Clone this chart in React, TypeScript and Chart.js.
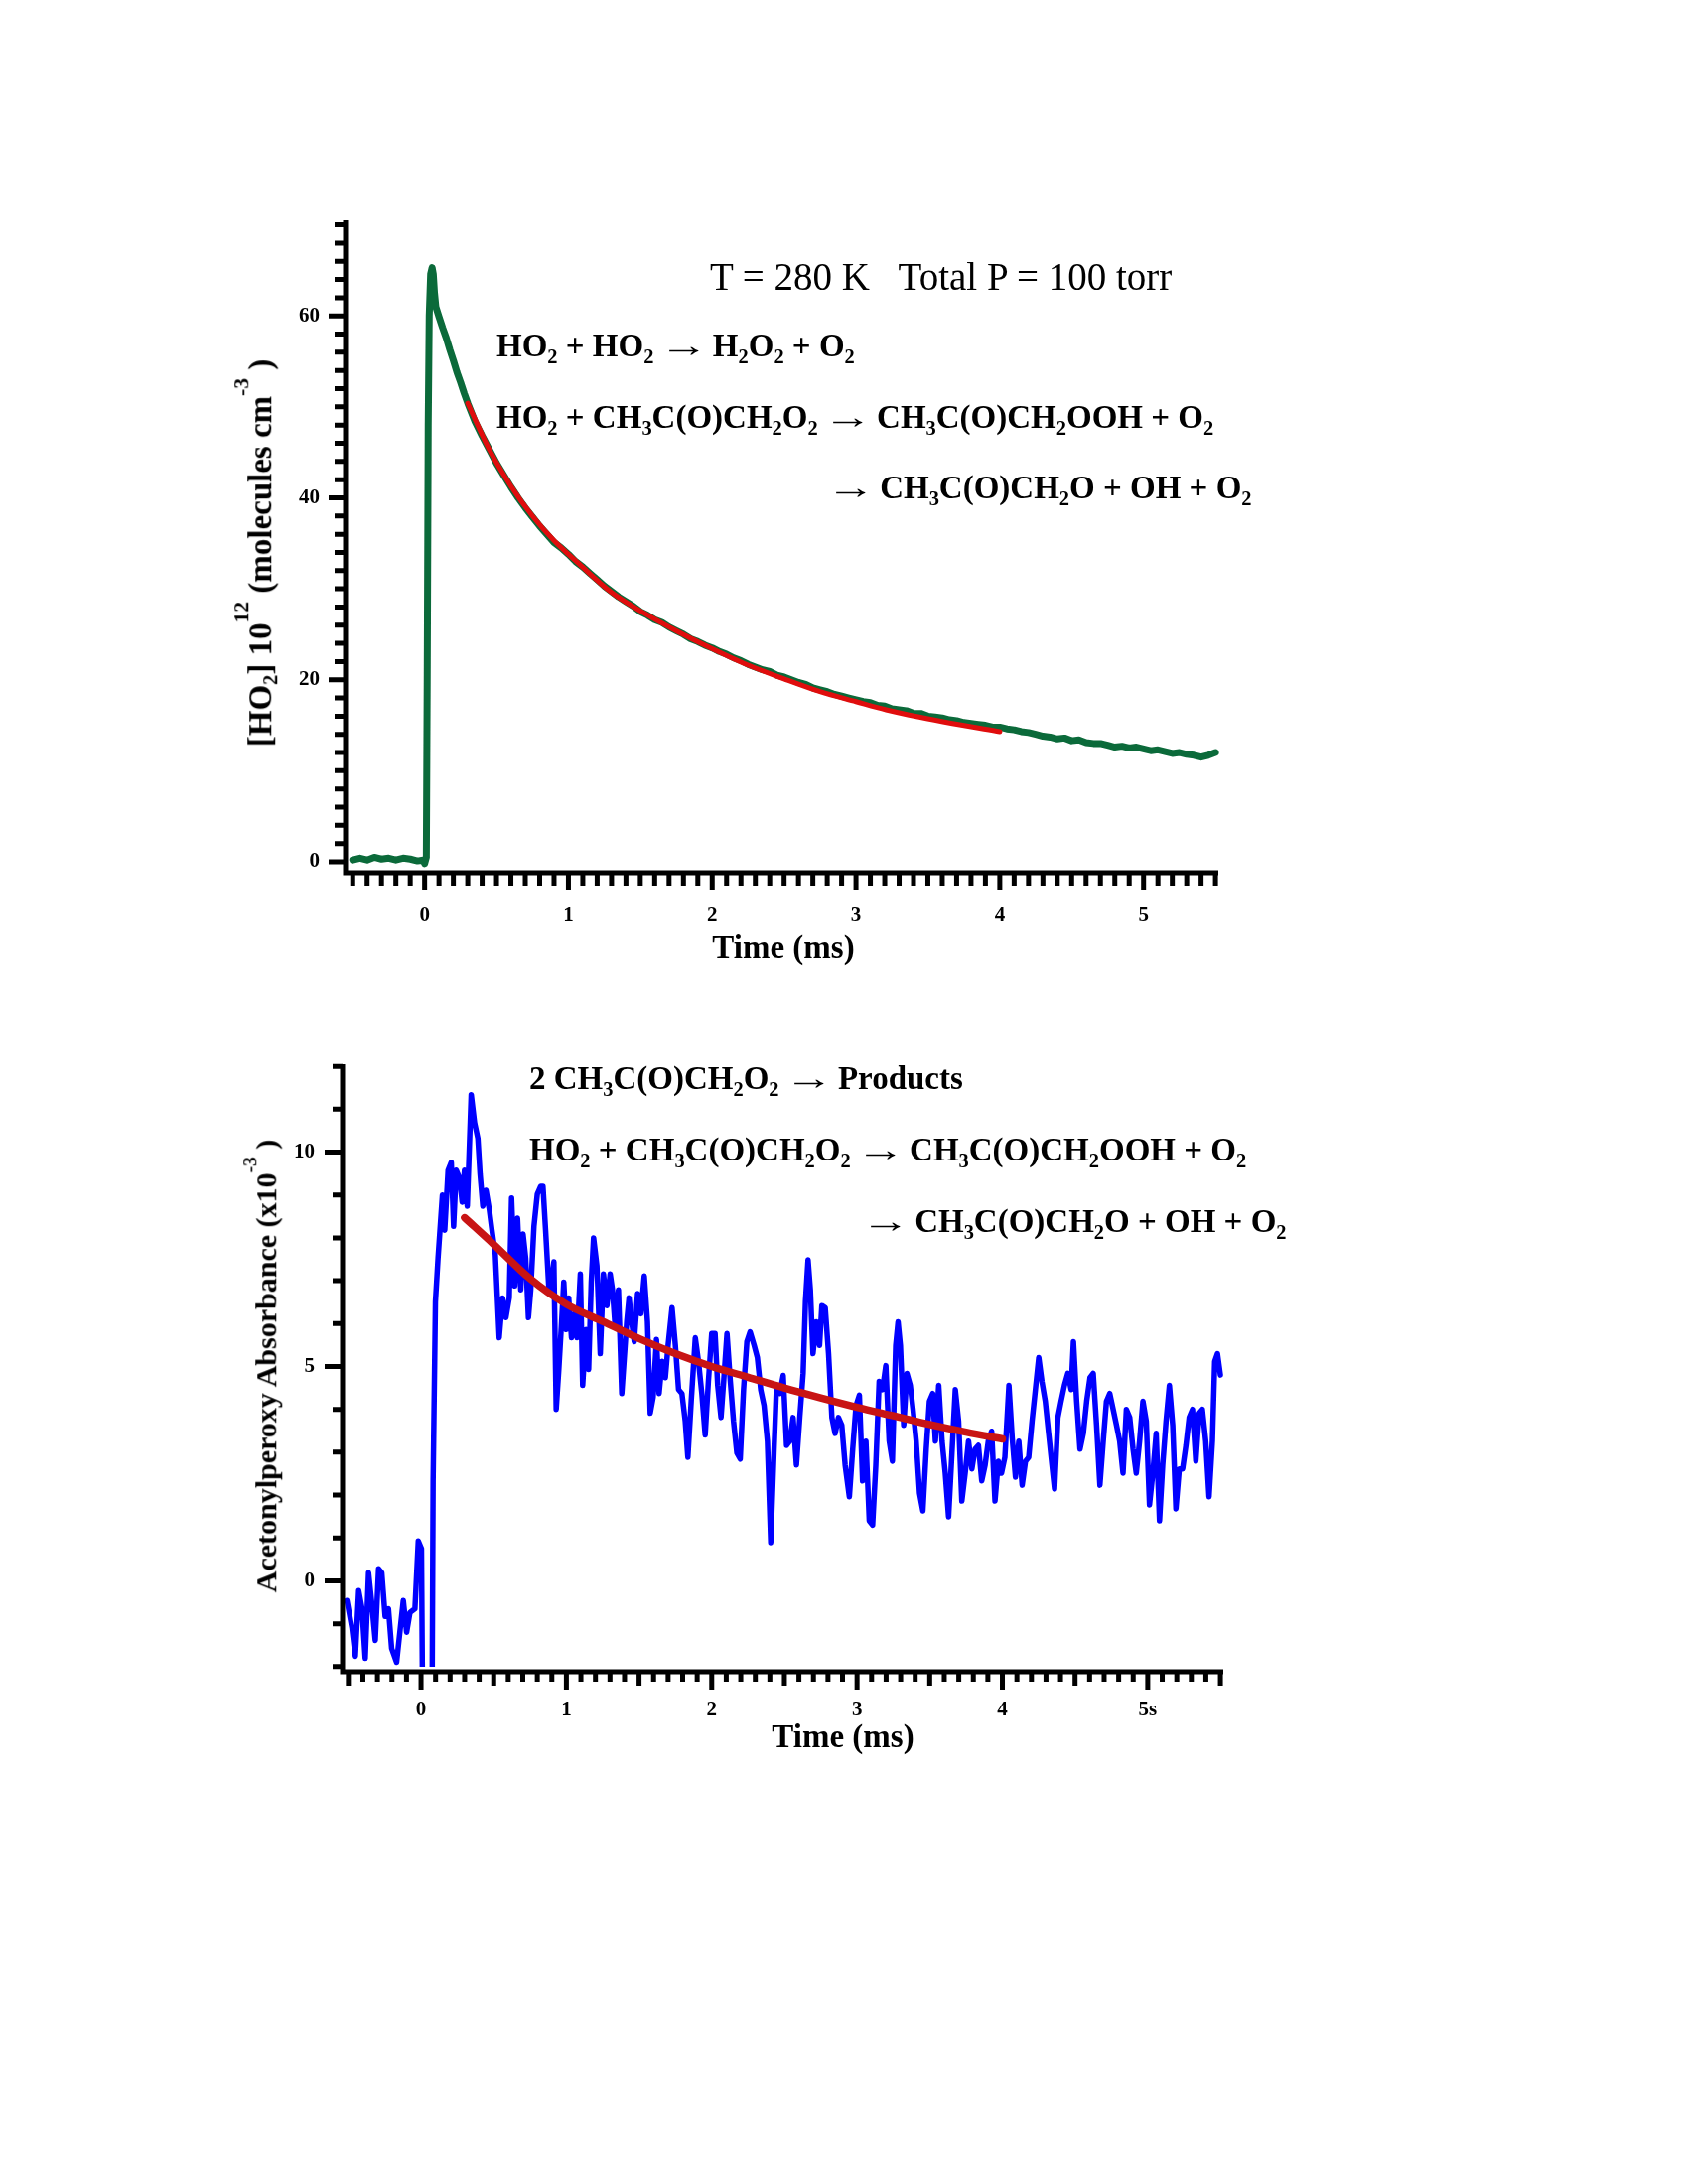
import { useEffect, useRef } from "react"
import { Chart, registerables } from "chart.js"

Chart.register(...registerables)

const FONT = '"Liberation Serif", "Times New Roman", serif'

// HO2 trace (time in ms, [HO2] in 10^12 molecules cm^-3)
const HO2_TRACE: [number, number][] = [
  [-0.5, 0.2], [-0.45, 0.4], [-0.4, 0.2], [-0.35, 0.5], [-0.3, 0.3], [-0.25, 0.4], [-0.2, 0.2],
  [-0.15, 0.4], [-0.1, 0.3], [-0.05, 0.1], [-0.01, 0.2], [0.0, -0.2], [0.012, 0.5], [0.018, 20],
  [0.025, 48], [0.032, 60], [0.042, 64.6], [0.052, 65.3], [0.06, 64.6], [0.068, 62.6], [0.078, 61.0],
  [0.1, 59.9], [0.125, 58.7], [0.15, 57.6], [0.175, 56.3], [0.2, 55.1], [0.225, 53.8], [0.25, 52.7],
  [0.275, 51.5], [0.3, 50.4], [0.35, 48.4], [0.4, 46.8], [0.45, 45.3], [0.5, 43.8], [0.55, 42.5],
  [0.6, 41.2], [0.65, 40.0], [0.7, 38.9], [0.75, 37.9], [0.8, 36.9], [0.85, 36.0], [0.9, 35.1],
  [0.95, 34.5], [1.0, 33.8], [1.05, 33.0], [1.1, 32.4], [1.15, 31.7], [1.2, 31.0], [1.25, 30.3],
  [1.3, 29.7], [1.35, 29.1], [1.4, 28.6], [1.45, 28.1], [1.5, 27.5], [1.55, 27.1], [1.6, 26.6],
  [1.65, 26.3], [1.7, 25.8], [1.75, 25.4], [1.8, 25.0], [1.85, 24.5], [1.9, 24.2], [1.95, 23.8],
  [2.0, 23.5], [2.05, 23.1], [2.1, 22.8], [2.15, 22.4], [2.2, 22.1], [2.25, 21.7], [2.3, 21.4],
  [2.35, 21.1], [2.4, 20.9], [2.45, 20.5], [2.5, 20.3], [2.55, 20.0], [2.6, 19.7], [2.65, 19.5],
  [2.7, 19.1], [2.75, 18.9], [2.8, 18.7], [2.85, 18.4], [2.9, 18.2], [2.95, 18.0], [3.0, 17.8],
  [3.05, 17.6], [3.1, 17.5], [3.15, 17.2], [3.2, 17.1], [3.25, 16.8], [3.3, 16.7], [3.35, 16.6],
  [3.4, 16.3], [3.45, 16.3], [3.5, 16.0], [3.55, 15.9], [3.6, 15.8], [3.65, 15.6], [3.7, 15.5],
  [3.75, 15.3], [3.8, 15.2], [3.85, 15.1], [3.9, 15.0], [3.95, 14.8], [4.0, 14.8], [4.05, 14.6],
  [4.1, 14.5], [4.15, 14.3], [4.2, 14.2], [4.25, 14.0], [4.3, 13.8], [4.35, 13.7], [4.4, 13.5],
  [4.45, 13.6], [4.5, 13.3], [4.55, 13.4], [4.6, 13.1], [4.65, 13.0], [4.7, 13.0], [4.75, 12.8],
  [4.8, 12.6], [4.85, 12.7], [4.9, 12.5], [4.95, 12.6], [5.0, 12.4], [5.05, 12.2], [5.1, 12.3],
  [5.15, 12.1], [5.2, 11.9], [5.25, 12.0], [5.3, 11.8], [5.35, 11.7], [5.4, 11.5], [5.45, 11.7],
  [5.5, 12.0],
]

// fitted HO2 decay
const HO2_FIT: [number, number][] = [
  [0.3, 50.4], [0.45, 45.3], [0.6, 41.3], [0.75, 38.0], [0.9, 35.3], [1.07, 32.8], [1.3, 29.6],
  [1.53, 27.3], [1.76, 25.3], [2.0, 23.4], [2.22, 21.8], [2.5, 20.1], [2.75, 18.7], [3.0, 17.6],
  [3.21, 16.7], [3.44, 15.9], [3.67, 15.2], [4.0, 14.3],
]

// acetonylperoxy absorbance (x10^-3)
const PEROXY_TRACE: [number, number][] = [
  [-0.51, -0.46], [-0.475, -1.11], [-0.452, -1.76], [-0.429, -0.23], [-0.406, -0.65], [-0.384, -1.81],
  [-0.361, 0.19], [-0.338, -0.55], [-0.315, -1.39], [-0.292, 0.28], [-0.27, 0.19], [-0.247, -0.83],
  [-0.224, -0.65], [-0.202, -1.58], [-0.168, -1.9], [-0.122, -0.46], [-0.099, -1.2], [-0.076, -0.74],
  [-0.042, -0.65], [-0.019, 0.93], [0.003, 0.75], [0.012, -3.5], [0.075, -3.5], [0.083, 2.33],
  [0.099, 6.51], [0.117, 7.53], [0.147, 9.0], [0.163, 8.18], [0.186, 9.58], [0.208, 9.76], [0.224, 8.27],
  [0.242, 9.58], [0.265, 9.39], [0.283, 8.83], [0.299, 9.58], [0.318, 8.74], [0.345, 11.34], [0.368, 10.69],
  [0.391, 10.32], [0.406, 9.49], [0.425, 8.74], [0.447, 9.11], [0.47, 8.65], [0.488, 8.18], [0.511, 7.62],
  [0.538, 5.67], [0.561, 6.6], [0.584, 6.14], [0.607, 6.6], [0.623, 8.93], [0.645, 6.88], [0.664, 8.46],
  [0.686, 6.79], [0.702, 8.09], [0.72, 7.53], [0.739, 6.14], [0.755, 6.79], [0.777, 8.27], [0.8, 9.02],
  [0.823, 9.2], [0.839, 9.2], [0.857, 8.18], [0.88, 6.79], [0.898, 6.97], [0.914, 7.44], [0.93, 4.0],
  [0.948, 4.93], [0.967, 6.04], [0.982, 6.97], [0.999, 5.86], [1.016, 6.6], [1.035, 5.67], [1.058, 6.23],
  [1.073, 5.67], [1.096, 7.16], [1.112, 4.56], [1.135, 5.86], [1.153, 4.93], [1.171, 6.97], [1.187, 8.0],
  [1.21, 7.35], [1.233, 5.3], [1.255, 7.16], [1.279, 6.42], [1.301, 7.16], [1.317, 6.79], [1.335, 5.95],
  [1.358, 6.79], [1.381, 4.37], [1.415, 6.04], [1.431, 6.6], [1.449, 6.04], [1.467, 5.58], [1.49, 6.7],
  [1.513, 6.23], [1.536, 7.11], [1.558, 6.04], [1.577, 3.91], [1.597, 4.28], [1.62, 5.63], [1.638, 4.37],
  [1.659, 5.12], [1.681, 4.74], [1.7, 5.49], [1.727, 6.37], [1.75, 5.49], [1.772, 4.46], [1.795, 4.37],
  [1.818, 3.72], [1.836, 2.88], [1.859, 4.19], [1.887, 5.67], [1.909, 5.12], [1.932, 4.37], [1.955, 3.4],
  [1.977, 4.65], [2.0, 5.77], [2.023, 5.77], [2.041, 4.56], [2.064, 3.81], [2.082, 4.65], [2.105, 5.77],
  [2.128, 4.65], [2.15, 3.72], [2.173, 2.98], [2.196, 2.84], [2.219, 4.46], [2.242, 5.58], [2.264, 5.81],
  [2.292, 5.49], [2.314, 5.21], [2.337, 4.46], [2.36, 4.09], [2.383, 3.26], [2.406, 0.89], [2.428, 2.98],
  [2.446, 4.56], [2.469, 4.37], [2.492, 4.79], [2.515, 3.16], [2.538, 3.26], [2.56, 3.81], [2.583, 2.7],
  [2.606, 3.81], [2.629, 4.84], [2.645, 6.51], [2.663, 7.49], [2.679, 6.79], [2.697, 5.3], [2.72, 6.04],
  [2.742, 5.49], [2.758, 6.42], [2.781, 6.37], [2.804, 5.3], [2.827, 3.81], [2.849, 3.44], [2.872, 3.81],
  [2.895, 3.63], [2.918, 2.7], [2.947, 1.96], [2.97, 3.07], [2.993, 4.09], [3.016, 4.33], [3.038, 2.33],
  [3.061, 3.26], [3.084, 1.4], [3.107, 1.3], [3.129, 2.7], [3.152, 4.65], [3.175, 4.46], [3.198, 5.02],
  [3.221, 3.26], [3.243, 2.79], [3.266, 5.49], [3.282, 6.04], [3.298, 5.49], [3.321, 3.63], [3.343, 4.84],
  [3.366, 4.56], [3.385, 4.0], [3.407, 3.26], [3.43, 2.05], [3.453, 1.63], [3.476, 3.07], [3.498, 4.19],
  [3.521, 4.37], [3.539, 3.26], [3.562, 4.56], [3.585, 3.26], [3.607, 2.51], [3.63, 1.49], [3.653, 2.98],
  [3.676, 4.46], [3.699, 3.72], [3.721, 1.86], [3.744, 2.51], [3.767, 3.26], [3.79, 2.61], [3.812, 3.07],
  [3.835, 3.16], [3.858, 2.33], [3.881, 2.7], [3.903, 3.26], [3.926, 3.49], [3.949, 1.86], [3.972, 2.79],
  [3.994, 2.51], [4.017, 2.88], [4.045, 4.56], [4.067, 3.35], [4.09, 2.42], [4.113, 3.26], [4.136, 2.23],
  [4.159, 2.79], [4.181, 2.88], [4.204, 3.72], [4.227, 4.46], [4.25, 5.21], [4.272, 4.65], [4.295, 4.19],
  [4.318, 3.44], [4.341, 2.7], [4.359, 2.14], [4.382, 3.81], [4.404, 4.19], [4.427, 4.56], [4.45, 4.84],
  [4.473, 4.46], [4.489, 5.58], [4.511, 4.19], [4.534, 3.07], [4.557, 3.44], [4.58, 4.19], [4.603, 4.74],
  [4.625, 4.84], [4.648, 3.63], [4.671, 2.23], [4.694, 3.26], [4.716, 4.19], [4.739, 4.37], [4.762, 4.0],
  [4.785, 3.63], [4.807, 3.26], [4.83, 2.51], [4.853, 4.0], [4.876, 3.81], [4.899, 3.07], [4.921, 2.51],
  [4.944, 3.26], [4.967, 4.19], [4.99, 3.72], [5.012, 1.77], [5.035, 2.51], [5.058, 3.44], [5.081, 1.4],
  [5.103, 2.7], [5.126, 3.72], [5.149, 4.56], [5.172, 3.63], [5.194, 1.68], [5.217, 2.61], [5.24, 2.61],
  [5.263, 3.16], [5.285, 3.81], [5.308, 4.0], [5.331, 2.79], [5.354, 3.91], [5.376, 4.0], [5.399, 3.26],
  [5.422, 1.96], [5.445, 3.26], [5.461, 5.12], [5.48, 5.3], [5.5, 4.8],
]

// fitted absorbance decay
const PEROXY_FIT: [number, number][] = [
  [0.3, 8.47], [0.5, 7.85], [0.75, 7.05], [1.0, 6.45], [1.25, 6.05], [1.5, 5.65], [1.75, 5.3],
  [2.0, 5.0], [2.25, 4.75], [2.5, 4.5], [2.75, 4.27], [3.0, 4.05], [3.25, 3.85], [3.5, 3.65],
  [3.75, 3.47], [4.0, 3.31],
]

// tick positions and labels
const X_TICKS = Array.from({ length: 61 }, (_, i) => (i - 5) / 10)
const TOP_Y_TICKS = Array.from({ length: 36 }, (_, i) => i * 2)
const BOTTOM_Y_TICKS = Array.from({ length: 15 }, (_, i) => i - 2)
const TOP_X_LABELS = ["0", "1", "2", "3", "4", "5"]
const BOTTOM_X_LABELS = ["0", "1", "2", "3", "4", "5s"]
const TOP_Y_LABELS = ["0", "20", "40", "60"]
const BOTTOM_Y_LABELS = ["0", "5", "10"]

const Y_W = 140
const X_H = 80
const PAD = 12

type Series = { points: [number, number][]; color: string; width: number; smooth?: boolean; clipBottom?: number }
type Area = { left: number; top: number; right: number; bottom: number }

type PanelProps = {
  area: Area
  xRange: [number, number]
  yRange: [number, number]
  yTicks: number[]
  xLabels: string[]
  yLabels: string[]
  xLen: (v: number) => number
  yLen: (v: number) => number
  xPad: number
  yPad: number
  series: Series[]
}

function TracePanel({ area, xRange, yRange, yTicks, xLabels, yLabels, xLen, yLen, xPad, yPad, series }: PanelProps) {
  const chartRef = useRef<HTMLCanvasElement>(null)
  const w = area.right - area.left + Y_W + PAD
  const h = area.bottom - area.top + PAD + X_H

  useEffect(() => {
    if (!chartRef.current) return

    // axis lines and tick marks, drawn from the scales
    const frame = {
      id: "frame",
      afterDraw(chart: Chart) {
        const { ctx, chartArea: a } = chart
        const xs = chart.scales.x
        const ys = chart.scales.y
        ctx.save()
        ctx.strokeStyle = "#000"
        ctx.lineCap = "butt"
        ctx.lineWidth = 5
        ctx.beginPath()
        ctx.moveTo(a.left, a.top)
        ctx.lineTo(a.left, a.bottom + 2.5)
        ctx.moveTo(a.left - 2.5, a.bottom)
        ctx.lineTo(a.right, a.bottom)
        for (const t of xs.ticks) {
          const px = xs.getPixelForValue(t.value)
          ctx.moveTo(px, a.bottom)
          ctx.lineTo(px, a.bottom + xLen(t.value))
        }
        for (const t of ys.ticks) {
          const py = ys.getPixelForValue(t.value)
          ctx.moveTo(a.left, py)
          ctx.lineTo(a.left - yLen(t.value), py)
        }
        ctx.stroke()
        ctx.restore()
      },
    }

    const tickFont = { family: FONT, size: 21, weight: "bold" as const, lineHeight: 1 }

    const chart = new Chart(chartRef.current, {
      type: "line",
      data: {
        datasets: series.map((s) => ({
          data: s.points.map(([x, y]) => ({ x, y })),
          borderColor: s.color,
          borderWidth: s.width,
          pointRadius: 0,
          tension: 0,
          cubicInterpolationMode: s.smooth ? ("monotone" as const) : ("default" as const),
          borderJoinStyle: "round" as const,
          borderCapStyle: "round" as const,
          fill: false,
          clip: { left: 8, right: 8, top: 8, bottom: s.clipBottom ?? 8 },
        })),
      },
      options: {
        animation: false,
        responsive: false,
        events: [],
        layout: { padding: { top: PAD, right: PAD, left: 0, bottom: 0 } },
        plugins: { legend: { display: false }, tooltip: { enabled: false } },
        scales: {
          x: {
            type: "linear",
            min: xRange[0],
            max: xRange[1],
            grid: { display: false, drawTicks: false },
            border: { display: false },
            afterBuildTicks: (s) => {
              s.ticks = X_TICKS.map((value) => ({ value }))
            },
            afterFit: (s) => {
              s.height = X_H
              s.paddingLeft = 0
              s.paddingRight = 0
            },
            ticks: {
              autoSkip: false,
              maxRotation: 0,
              minRotation: 0,
              padding: xPad,
              color: "#000",
              font: tickFont,
              callback: (v) => {
                const n = Number(v)
                return Number.isInteger(n) && n >= 0 && n < xLabels.length ? xLabels[n] : ""
              },
            },
          },
          y: {
            type: "linear",
            min: yRange[0],
            max: yRange[1],
            grid: { display: false, drawTicks: false },
            border: { display: false },
            afterBuildTicks: (s) => {
              s.ticks = yTicks.map((value) => ({ value }))
            },
            afterFit: (s) => {
              s.width = Y_W
              s.paddingTop = 0
              s.paddingBottom = 0
            },
            ticks: {
              autoSkip: false,
              padding: yPad,
              color: "#000",
              font: tickFont,
              callback: (v) => (yLabels.includes(String(v)) ? String(v) : ""),
            },
          },
        },
      },
      plugins: [frame],
    })

    return () => chart.destroy()
  }, [])

  return (
    <canvas
      ref={chartRef}
      width={w}
      height={h}
      style={{ position: "absolute", left: area.left - Y_W, top: area.top - PAD, width: w, height: h }}
    />
  )
}

const SUB = { fontSize: "0.62em", verticalAlign: "-0.32em", lineHeight: 0 }
const SUP = { fontSize: "0.65em", verticalAlign: "1.05em", lineHeight: 0 }
// thin, stretched arrow like the original
const ARROW = {
  display: "inline-block",
  fontWeight: "normal" as const,
  transform: "scaleX(1.5)",
  margin: "0 0.15em",
}

// "_2" -> subscript digit, "^{..}" -> superscript
function Formula({ text }: { text: string }) {
  const parts = text.split(/(_\d|\^\{[^}]*\}|\u2192)/)
  return (
    <>
      {parts.map((p, i) => {
        if (p.startsWith("_")) return <span key={i} style={SUB}>{p.slice(1)}</span>
        if (p.startsWith("^{")) return <span key={i} style={SUP}>{p.slice(2, -1)}</span>
        if (p === "\u2192") return <span key={i} style={ARROW}>{p}</span>
        return <span key={i}>{p}</span>
      })}
    </>
  )
}

function Label({ x, baseline, size, text, bold = true, center = false }: { x: number; baseline: number; size: number; text: string; bold?: boolean; center?: boolean }) {
  return (
    <div
      style={{
        position: "absolute",
        left: x,
        top: baseline - 0.8375 * size,
        fontSize: size,
        lineHeight: `${size}px`,
        fontWeight: bold ? "bold" : "normal",
        whiteSpace: "pre",
        transform: center ? "translateX(-50%)" : undefined,
      }}
    >
      <Formula text={text} />
    </div>
  )
}

function VerticalLabel({ baselineX, cy, size, text }: { baselineX: number; cy: number; size: number; text: string }) {
  return (
    <div
      style={{
        position: "absolute",
        left: baselineX - 0.3375 * size,
        top: cy,
        fontSize: size,
        lineHeight: `${size}px`,
        fontWeight: "bold",
        whiteSpace: "pre",
        transform: "translate(-50%, -50%) rotate(-90deg)",
      }}
    >
      <Formula text={text} />
    </div>
  )
}

const isInt = (v: number) => Math.abs(v - Math.round(v)) < 1e-9
const isHalf = (v: number) => Math.abs(v * 2 - Math.round(v * 2)) < 1e-9

export default function App() {
  return (
    <div
      style={{
        position: "absolute",
        left: 0,
        top: 0,
        width: 1700,
        height: 2200,
        background: "#fff",
        color: "#000",
        fontFamily: FONT,
        overflow: "hidden",
      }}
    >
      <TracePanel
        area={{ left: 348, top: 222, right: 1227, bottom: 879 }}
        xRange={[-0.55, 5.52]}
        yRange={[-1.2, 70.5]}
        yTicks={TOP_Y_TICKS}
        xLabels={TOP_X_LABELS}
        yLabels={TOP_Y_LABELS}
        xLen={(v) => (isInt(v) ? 18 : 13)}
        yLen={(v) => (v % 20 === 0 ? 17 : 11)}
        xPad={33}
        yPad={26}
        series={[
          { points: HO2_FIT, color: "#e00d0d", width: 5, smooth: true },
          { points: HO2_TRACE, color: "#0b6a3a", width: 7 },
        ]}
      />
      <TracePanel
        area={{ left: 345, top: 1072, right: 1232, bottom: 1684 }}
        xRange={[-0.54, 5.52]}
        yRange={[-2.12, 12.05]}
        yTicks={BOTTOM_Y_TICKS}
        xLabels={BOTTOM_X_LABELS}
        yLabels={BOTTOM_Y_LABELS}
        xLen={(v) => (isInt(v) ? 18 : isHalf(v) ? 14 : 10)}
        yLen={(v) => (v % 5 === 0 ? 18 : 10)}
        xPad={28}
        yPad={28}
        series={[
          { points: PEROXY_FIT, color: "#c81414", width: 7.5, smooth: true },
          { points: PEROXY_TRACE, color: "#0000ff", width: 5.5, clipBottom: -5 },
        ]}
      />

      <Label x={715} baseline={292} size={39} bold={false} text={"T = 280 K   Total P = 100 torr"} />
      <Label x={500} baseline={360} size={33} text={"HO_2 + HO_2 \u2192 H_2O_2 + O_2"} />
      <Label x={500} baseline={432} size={33} text={"HO_2 + CH_3C(O)CH_2O_2 \u2192 CH_3C(O)CH_2OOH + O_2"} />
      <Label x={835} baseline={503} size={33} text={"\u2192 CH_3C(O)CH_2O + OH + O_2"} />
      <Label x={789} baseline={966} size={33} center text={"Time (ms)"} />
      <VerticalLabel baselineX={272} cy={557} size={33} text={"[HO_2] 10^{12} (molecules cm^{-3} )"} />

      <Label x={533} baseline={1098} size={33} text={"2 CH_3C(O)CH_2O_2 \u2192 Products"} />
      <Label x={533} baseline={1170} size={33} text={"HO_2 + CH_3C(O)CH_2O_2 \u2192 CH_3C(O)CH_2OOH + O_2"} />
      <Label x={870} baseline={1242} size={33} text={"\u2192 CH_3C(O)CH_2O + OH + O_2"} />
      <Label x={849} baseline={1761} size={33} center text={"Time (ms)"} />
      <VerticalLabel baselineX={278} cy={1376} size={30} text={"Acetonylperoxy Absorbance (x10^{-3} )"} />
    </div>
  )
}
